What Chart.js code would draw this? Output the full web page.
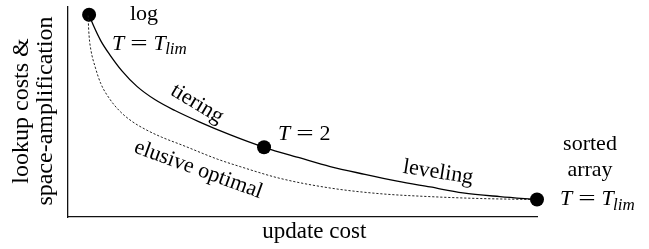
<!DOCTYPE html>
<html>
<head>
<meta charset="utf-8">
<script src="https://cdn.jsdelivr.net/npm/chart.js@4/dist/chart.umd.min.js"></script>
<style>
  html, body { margin: 0; padding: 0; background: #fff; }
  #c { display: block; }
</style>
</head>
<body>
<canvas id="c" width="649" height="249"></canvas>
<script>
// ---- data (x = update cost, y = lookup cost, both 0..100) ----
const tieringLevelingX = [4.5, 5.5, 7.0, 9.0, 11.5, 14.7, 18.6, 22.8, 28.1, 34.5, 41.8, 49.5, 55.9, 63.3, 70.2, 77.2, 84.2, 92.1, 100];
const tieringLevelingY = [96.3, 90.8, 83.9, 77.0, 69.6, 62.2, 55.8, 50.7, 45.2, 39.2, 33.2, 28.1, 24.0, 20.3, 17.1, 14.3, 11.5, 9.7, 8.3];
const optimalX = [4.3, 4.35, 4.5, 4.9, 5.8, 7.0, 8.8, 11.0, 13.6, 16.6, 20.0, 24.5, 31.8, 36.7, 45.2, 55.9, 66.5, 77.2, 87.9, 100];
const optimalY = [96.0, 92.2, 86.2, 79.3, 71.4, 63.5, 56.5, 50.5, 45.6, 41.6, 38.0, 34.1, 27.6, 24.0, 18.4, 13.8, 11.1, 9.7, 8.8, 8.3];
const markerNames = ['log', 'T = 2', 'sorted array'];
const markerX = [4.5, 41.8, 100];
const markerY = [96.3, 33.2, 8.3];
const xTitle = 'update cost';
const yTitle = ['lookup costs &', 'space-amplification'];

const zip = (xs, ys) => xs.map((x, i) => ({ x, y: ys[i] }));

const SERIF = '"Liberation Serif", "Times New Roman", serif';
const FS = 22;

// text annotations anchored in data coordinates
const annotations = [
  { kind: 'text', text: 'log', x: 16.2, y: 94.0, align: 'center', baseline: 'alphabetic', rot: 0 },
  { kind: 'math', rhs: 'T', sub: 'lim', x: 9.4, y: 79.7 },
  { kind: 'text', text: 'tiering', x: 27.5, y: 53.9, align: 'center', baseline: 'middle', rot: 31 },
  { kind: 'math', rhs: '2', sub: null, x: 44.8, y: 36.9 },
  { kind: 'text', text: 'elusive optimal', x: 27.8, y: 22.5, align: 'center', baseline: 'middle', rot: 20 },
  { kind: 'text', text: 'leveling', x: 78.9, y: 21.2, align: 'center', baseline: 'middle', rot: 9 },
  { kind: 'text', text: 'sorted', x: 111.3, y: 31.8, align: 'center', baseline: 'alphabetic', rot: 0 },
  { kind: 'text', text: 'array', x: 111.3, y: 19.4, align: 'center', baseline: 'alphabetic', rot: 0 },
  { kind: 'math', rhs: 'T', sub: 'lim', x: 104.9, y: 5.5 }
];

function drawMath(ctx, x, y, rhs, sub) {
  const it = `italic ${FS}px ${SERIF}`;
  const rm = `${FS}px ${SERIF}`;
  ctx.textAlign = 'left';
  ctx.textBaseline = 'alphabetic';
  ctx.font = it;
  ctx.fillText('T', x, y);
  x += ctx.measureText('T').width + FS * 0.27;
  ctx.font = rm;
  const ew = ctx.measureText('=').width;
  ctx.save();
  ctx.translate(x, y);
  ctx.scale(1.4, 1);
  ctx.fillText('=', 0, 0);
  ctx.restore();
  x += ew * 1.4 + FS * 0.27;
  if (sub) {
    ctx.font = it;
    ctx.fillText('T', x, y);
    x += ctx.measureText('T').width - FS * 0.03;
    ctx.font = `italic ${Math.round(FS * 0.78)}px ${SERIF}`;
    ctx.fillText(sub, x, y + FS * 0.2);
  } else {
    ctx.font = rm;
    ctx.fillText(rhs, x, y);
  }
}

const labelPlugin = {
  id: 'labels',
  afterDatasetsDraw(chart) {
    const ctx = chart.ctx;
    const xs = chart.scales.x, ys = chart.scales.y;
    const area = chart.chartArea;
    ctx.save();
    ctx.fillStyle = '#000';
    for (const a of annotations) {
      const px = xs.getPixelForValue(a.x);
      const py = ys.getPixelForValue(a.y);
      if (a.kind === 'math') {
        drawMath(ctx, px, py, a.rhs, a.sub);
      } else {
        ctx.save();
        ctx.translate(px, py);
        ctx.rotate(a.rot * Math.PI / 180);
        ctx.font = `${FS}px ${SERIF}`;
        ctx.textAlign = a.align;
        ctx.textBaseline = a.baseline;
        ctx.fillText(a.text, 0, 0);
        ctx.restore();
      }
    }
    // axis titles
    ctx.font = `23px ${SERIF}`;
    ctx.textAlign = 'center';
    ctx.textBaseline = 'alphabetic';
    ctx.fillText(xTitle, xs.getPixelForValue(52.5), area.bottom + 21);
    ctx.save();
    ctx.translate(area.left, (area.top + area.bottom) / 2 - 1);
    ctx.rotate(-Math.PI / 2);
    ctx.font = `24px ${SERIF}`;
    ctx.fillText(yTitle[0], 0, -40);
    ctx.fillText(yTitle[1], 0, -16);
    ctx.restore();
    ctx.restore();
  }
};

new Chart(document.getElementById('c'), {
  type: 'scatter',
  data: {
    datasets: [
      {
        label: 'tiering / leveling',
        data: zip(tieringLevelingX, tieringLevelingY),
        showLine: true,
        borderColor: '#000',
        borderWidth: 1.3,
        pointRadius: 0,
        cubicInterpolationMode: 'monotone',
        clip: false
      },
      {
        label: 'elusive optimal',
        data: zip(optimalX, optimalY),
        showLine: true,
        borderColor: '#222',
        borderWidth: 1,
        borderDash: [2.2, 1.8],
        pointRadius: 0,
        cubicInterpolationMode: 'monotone',
        clip: false
      },
      {
        label: 'designs',
        data: zip(markerX, markerY).map((p, i) => ({ ...p, name: markerNames[i] })),
        showLine: false,
        pointRadius: 7,
        pointBackgroundColor: '#000',
        pointBorderColor: '#000',
        pointBorderWidth: 0,
        clip: false
      }
    ]
  },
  options: {
    responsive: false,
    animation: false,
    events: [],
    layout: { padding: { left: 0, top: 0, right: 112, bottom: 0 } },
    plugins: { legend: { display: false }, tooltip: { enabled: false } },
    scales: {
      x: {
        type: 'linear', min: 0, max: 100,
        grid: { display: false, drawTicks: false },
        ticks: { display: false },
        border: { display: true, color: '#111', width: 1.3 },
        title: { display: false, text: xTitle },
        afterFit(s) { s.height = 32; }
      },
      y: {
        type: 'linear', min: 0, max: 100,
        grid: { display: false, drawTicks: false },
        ticks: { display: false },
        border: { display: true, color: '#111', width: 1.3 },
        title: { display: false, text: yTitle.join(' ') },
        afterFit(s) { s.width = 68; }
      }
    }
  },
  plugins: [labelPlugin]
});
</script>
</body>
</html>
